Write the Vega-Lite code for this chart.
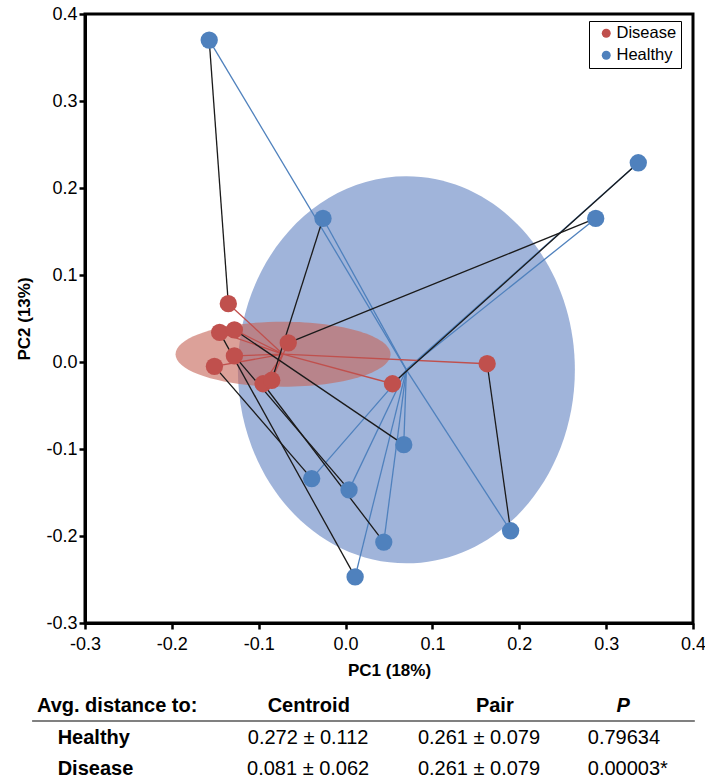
{
  "$schema": "https://vega.github.io/schema/vega-lite/v6.json",
  "width": 608,
  "height": 609,
  "autosize": {"type": "none"},
  "padding": {"left": 85, "top": 14, "right": 12, "bottom": 159},
  "background": "white",
  "config": {
    "font": "Liberation Sans",
    "view": {"stroke": "black", "strokeWidth": 3},
    "axis": {
      "grid": false,
      "domainColor": "black",
      "domainWidth": 3,
      "tickColor": "black",
      "tickWidth": 2.5,
      "tickSize": 6,
      "labelColor": "black",
      "labelFontSize": 18,
      "labelFlush": false,
      "labelOverlap": false,
      "titleColor": "black",
      "titleFontSize": 17,
      "titleFontWeight": "bold"
    },
    "text": {"color": "black"}
  },
  "datasets": {
    "samples": [
      {"id": "H1", "group": "Healthy", "pair": 1, "pc1": -0.157, "pc2": 0.370},
      {"id": "H2", "group": "Healthy", "pair": 2, "pc1": -0.026, "pc2": 0.165},
      {"id": "H3", "group": "Healthy", "pair": 3, "pc1": 0.337, "pc2": 0.229},
      {"id": "H4", "group": "Healthy", "pair": 4, "pc1": 0.288, "pc2": 0.165},
      {"id": "H5", "group": "Healthy", "pair": 5, "pc1": 0.067, "pc2": -0.095},
      {"id": "H6", "group": "Healthy", "pair": 6, "pc1": -0.039, "pc2": -0.134},
      {"id": "H7", "group": "Healthy", "pair": 7, "pc1": 0.004, "pc2": -0.147},
      {"id": "H8", "group": "Healthy", "pair": 8, "pc1": 0.044, "pc2": -0.207},
      {"id": "H9", "group": "Healthy", "pair": 9, "pc1": 0.011, "pc2": -0.247},
      {"id": "H10", "group": "Healthy", "pair": 10, "pc1": 0.190, "pc2": -0.194},
      {"id": "D1", "group": "Disease", "pair": 1, "pc1": -0.135, "pc2": 0.067},
      {"id": "D2", "group": "Disease", "pair": 9, "pc1": -0.145, "pc2": 0.034},
      {"id": "D3", "group": "Disease", "pair": 5, "pc1": -0.128, "pc2": 0.037},
      {"id": "D4", "group": "Disease", "pair": 4, "pc1": -0.066, "pc2": 0.022},
      {"id": "D5", "group": "Disease", "pair": 7, "pc1": -0.128, "pc2": 0.007},
      {"id": "D6", "group": "Disease", "pair": 6, "pc1": -0.151, "pc2": -0.005},
      {"id": "D7", "group": "Disease", "pair": 8, "pc1": -0.095, "pc2": -0.025},
      {"id": "D8", "group": "Disease", "pair": 2, "pc1": -0.085, "pc2": -0.021},
      {"id": "D9", "group": "Disease", "pair": 3, "pc1": 0.054, "pc2": -0.025},
      {"id": "D10", "group": "Disease", "pair": 10, "pc1": 0.163, "pc2": -0.002}
    ],
    "centroids": [
      {"group": "Disease", "pc1": -0.072, "pc2": 0.009},
      {"group": "Healthy", "pc1": 0.070, "pc2": -0.009}
    ],
    "stats": [
      {"group": "Healthy", "centroid": "0.272 ± 0.112", "pair": "0.261 ± 0.079", "p": "0.79634"},
      {"group": "Disease", "centroid": "0.081 ± 0.062", "pair": "0.261 ± 0.079", "p": "0.00003*"}
    ]
  },
  "layer": [
    {
      "data": {"name": "samples"},
      "encoding": {
        "x": {
          "field": "pc1",
          "type": "quantitative",
          "scale": {"domain": [-0.3, 0.4], "nice": false, "zero": false},
          "axis": {
            "title": "PC1 (18%)",
            "values": [-0.3, -0.2, -0.1, 0, 0.1, 0.2, 0.3, 0.4],
            "labelExpr": "replace(format(datum.value, '.1f'), '\u2212', '-')",
            "labelPadding": 6,
            "titlePadding": 9
          }
        },
        "y": {
          "field": "pc2",
          "type": "quantitative",
          "scale": {"domain": [-0.3, 0.4], "nice": false, "zero": false},
          "axis": {
            "title": "PC2 (13%)",
            "values": [-0.3, -0.2, -0.1, 0, 0.1, 0.2, 0.3, 0.4],
            "labelExpr": "replace(format(datum.value, '.1f'), '\u2212', '-')",
            "labelPadding": 2,
            "titlePadding": 12
          }
        }
      },
      "layer": [
        {
          "data": {"name": "centroids"},
          "transform": [{"filter": "datum.group === 'Healthy'"}],
          "mark": {
            "type": "point",
            "shape": "M-168.5,0A168.5,193.5,0,1,0,168.5,0A168.5,193.5,0,1,0,-168.5,0Z",
            "size": 4,
            "filled": true,
            "color": "#A0B4DA",
            "opacity": 1,
            "strokeWidth": 0
          }
        },
        {
          "data": {"name": "centroids"},
          "transform": [{"filter": "datum.group === 'Disease'"}],
          "mark": {
            "type": "point",
            "shape": "M-107.5,0A107.5,32.5,0,1,0,107.5,0A107.5,32.5,0,1,0,-107.5,0Z",
            "size": 4,
            "filled": true,
            "color": "#C7685A",
            "opacity": 0.62,
            "strokeWidth": 0
          }
        },
        {
          "transform": [
            {"filter": "datum.group === 'Healthy'"},
            {
              "lookup": "group",
              "from": {"data": {"name": "centroids"}, "key": "group", "fields": ["pc1", "pc2"]},
              "as": ["cx", "cy"]
            }
          ],
          "mark": {"type": "rule", "strokeWidth": 1.3, "color": "#4F81BD"},
          "encoding": {"x2": {"field": "cx"}, "y2": {"field": "cy"}}
        },
        {
          "transform": [
            {"filter": "datum.group === 'Disease'"},
            {
              "lookup": "group",
              "from": {"data": {"name": "centroids"}, "key": "group", "fields": ["pc1", "pc2"]},
              "as": ["cx", "cy"]
            }
          ],
          "mark": {"type": "rule", "strokeWidth": 1.3, "color": "#C0504D"},
          "encoding": {"x2": {"field": "cx"}, "y2": {"field": "cy"}}
        },
        {
          "mark": {"type": "line", "color": "#1a1a1a", "strokeWidth": 1.3},
          "encoding": {"detail": {"field": "pair", "type": "nominal"}}
        },
        {
          "mark": {"type": "point", "filled": true, "opacity": 1, "size": 300, "strokeWidth": 0},
          "encoding": {
            "color": {
              "field": "group",
              "type": "nominal",
              "scale": {"domain": ["Disease", "Healthy"], "range": ["#C0504D", "#4F81BD"]},
              "legend": {
                "orient": "none",
                "legendX": 504,
                "legendY": 7,
                "direction": "vertical",
                "title": null,
                "strokeColor": "black",
                "fillColor": "white",
                "padding": 4,
                "symbolType": "circle",
                "symbolSize": 80,
                "symbolOffset": 5,
                "labelOffset": 2,
                "labelFontSize": 16.5,
                "labelColor": "black",
                "rowPadding": 5
              }
            }
          }
        }
      ]
    },
    {
      "data": {"name": "stats"},
      "encoding": {
        "y": {
          "field": "group",
          "type": "nominal",
          "scale": {"type": "point", "domain": ["Avg. distance to:", "Healthy", "Disease"], "range": [692, 755], "padding": 0},
          "axis": null
        }
      },
      "layer": [
        {
          "data": {"values": [{}]},
          "mark": {"type": "rule", "color": "#808080", "strokeWidth": 2, "yOffset": 15},
          "encoding": {
            "x": {"datum": -0.087, "type": "quantitative", "scale": {"domain": [0, 1], "nice": false, "zero": false}, "axis": null},
            "x2": {"datum": 1.003},
            "y": {"datum": "Avg. distance to:", "type": "nominal"}
          }
        },
        {
          "data": {"values": [{}]},
          "mark": {"type": "text", "text": "Avg. distance to:", "align": "left", "baseline": "middle", "fontSize": 20, "fontWeight": "bold"},
          "encoding": {
            "x": {"datum": -0.079, "type": "quantitative", "scale": {"domain": [0, 1], "nice": false, "zero": false}, "axis": null},
            "y": {"datum": "Avg. distance to:", "type": "nominal"}
          }
        },
        {
          "data": {"values": [{}]},
          "mark": {"type": "text", "text": "Centroid", "align": "center", "baseline": "middle", "fontSize": 20, "fontWeight": "bold"},
          "encoding": {
            "x": {"datum": 0.368, "type": "quantitative", "scale": {"domain": [0, 1], "nice": false, "zero": false}, "axis": null},
            "y": {"datum": "Avg. distance to:", "type": "nominal"}
          }
        },
        {
          "data": {"values": [{}]},
          "mark": {"type": "text", "text": "Pair", "align": "center", "baseline": "middle", "fontSize": 20, "fontWeight": "bold"},
          "encoding": {
            "x": {"datum": 0.674, "type": "quantitative", "scale": {"domain": [0, 1], "nice": false, "zero": false}, "axis": null},
            "y": {"datum": "Avg. distance to:", "type": "nominal"}
          }
        },
        {
          "data": {"values": [{}]},
          "mark": {"type": "text", "text": "P", "align": "center", "baseline": "middle", "fontSize": 20, "fontWeight": "bold", "fontStyle": "italic"},
          "encoding": {
            "x": {"datum": 0.885, "type": "quantitative", "scale": {"domain": [0, 1], "nice": false, "zero": false}, "axis": null},
            "y": {"datum": "Avg. distance to:", "type": "nominal"}
          }
        },
        {
          "mark": {"type": "text", "align": "left", "baseline": "middle", "fontSize": 20, "fontWeight": "bold"},
          "encoding": {
            "x": {"datum": -0.045, "type": "quantitative", "scale": {"domain": [0, 1], "nice": false, "zero": false}, "axis": null},
            "text": {"field": "group"}
          }
        },
        {
          "mark": {"type": "text", "align": "center", "baseline": "middle", "fontSize": 20},
          "encoding": {
            "x": {"datum": 0.367, "type": "quantitative", "scale": {"domain": [0, 1], "nice": false, "zero": false}, "axis": null},
            "text": {"field": "centroid"}
          }
        },
        {
          "mark": {"type": "text", "align": "center", "baseline": "middle", "fontSize": 20},
          "encoding": {
            "x": {"datum": 0.648, "type": "quantitative", "scale": {"domain": [0, 1], "nice": false, "zero": false}, "axis": null},
            "text": {"field": "pair"}
          }
        },
        {
          "mark": {"type": "text", "align": "left", "baseline": "middle", "fontSize": 20},
          "encoding": {
            "x": {"datum": 0.827, "type": "quantitative", "scale": {"domain": [0, 1], "nice": false, "zero": false}, "axis": null},
            "text": {"field": "p"}
          }
        }
      ]
    }
  ],
  "resolve": {"scale": {"x": "independent", "y": "independent"}}
}
